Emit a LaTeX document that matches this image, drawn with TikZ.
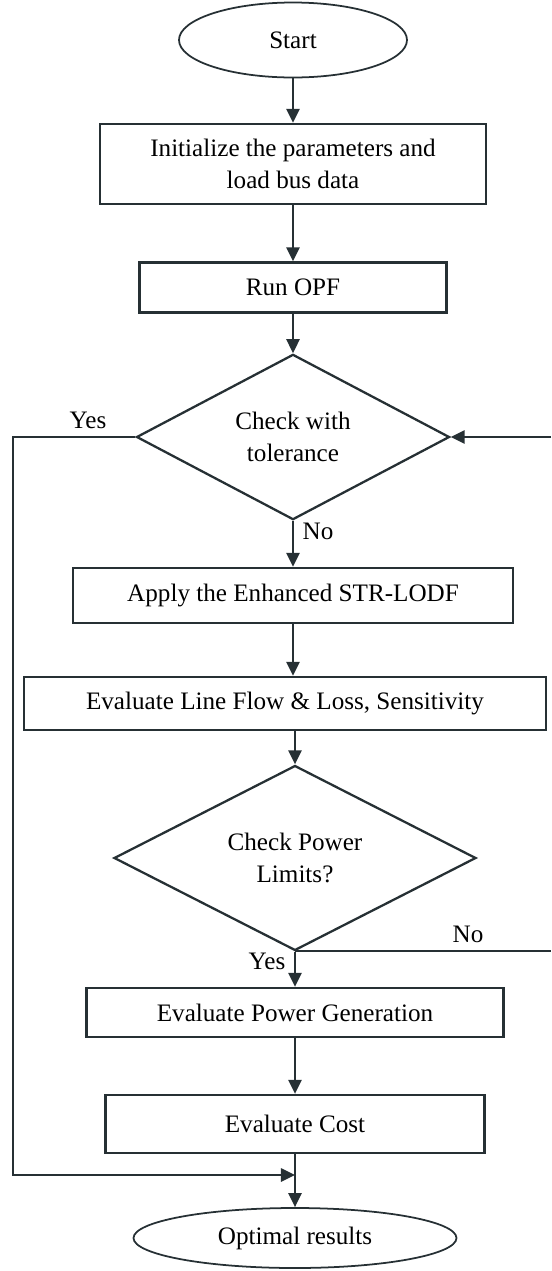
\documentclass[tikz,border=0pt]{standalone}
\usepackage{fontspec}
\setmainfont{Liberation Serif}
\usetikzlibrary{shapes.geometric,arrows.meta}
\definecolor{linegray}{RGB}{38,48,52}

\begin{document}
\begin{tikzpicture}[
    every node/.style={font=\fontsize{14.3}{18.5}\selectfont, align=center, text=black},
    box/.style={draw=linegray, line width=1.3pt, rectangle, inner sep=0pt},
    term/.style={draw=linegray, line width=1.0pt, ellipse, inner sep=0pt},
    decision/.style={draw=linegray, line width=1.3pt, diamond, inner sep=0pt},
    flow/.style={draw=linegray, line width=1.3pt, -{Triangle[length=8pt,width=7.5pt]}},
    plain/.style={draw=linegray, line width=1.3pt}
]
    \useasboundingbox (0,0) rectangle (11.02,-25.42);

    \node[term, minimum width=4.56cm, minimum height=1.5cm] (start) at (5.86,-0.8) {Start};

    \node[box, minimum width=7.72cm, minimum height=1.6cm] (init) at (5.86,-3.28) {Initialize the parameters and\\load bus data};
    \draw[flow] (start) -- (init);

    \node[box, minimum width=6.14cm, minimum height=1.0cm] (opf) at (5.86,-5.75) {Run OPF};
    \draw[flow] (init) -- (opf);

    \node[decision, minimum width=6.26cm, minimum height=2.84cm] (tol) at (5.86,-8.74) {Check with\\tolerance};
    \draw[flow] (opf) -- (tol);

    \node[box, minimum width=8.8cm, minimum height=1.1cm] (apply) at (5.86,-11.91) {Apply the Enhanced STR-LODF};
    \draw[flow] (tol) -- (apply);
    \node (no1) at (6.36,-10.62) {No};

    \node[box, minimum width=10.44cm, minimum height=1.06cm] (evalflow) at (5.7,-14.07) {Evaluate Line Flow \& Loss, Sensitivity};
    \draw[flow] (apply.south) -- (apply.south |- evalflow.north);

    \node[decision, minimum width=7.24cm, minimum height=3.0cm] (lim) at (5.9,-17.16) {Check Power\\Limits?};
    \draw[flow] (lim.north |- evalflow.south) -- (lim.north);

    \node[box, minimum width=8.34cm, minimum height=0.98cm] (gen) at (5.9,-20.25) {Evaluate Power Generation};
    \draw[flow] (lim) -- (gen);
    \node (yes2) at (5.34,-19.22) {Yes};

    \node[box, minimum width=7.58cm, minimum height=1.16cm] (cost) at (5.9,-22.48) {Evaluate Cost};
    \draw[flow] (gen) -- (cost);

    \node[term, minimum width=6.46cm, minimum height=1.2cm] (opt) at (5.9,-24.76) {Optimal results};
    \draw[flow] (cost) -- (opt);

    % yes branch back down to the end
    \coordinate (lbot) at (0.26,-23.5);
    \draw[flow] (tol.west) -| (lbot) -- (lbot -| opt.north);
    \node (yes1) at (1.76,-8.4) {Yes};

    % loop on the right edge
    \coordinate (rtop) at (11.02,-8.74);
    \coordinate (rbot) at (11.02,-19.02);
    \draw[flow] (rtop) -- (tol.east);
    \draw[plain] (lim.south |- rbot) -- (rbot);
    \node (no2) at (9.36,-18.68) {No};

\end{tikzpicture}
\end{document}
